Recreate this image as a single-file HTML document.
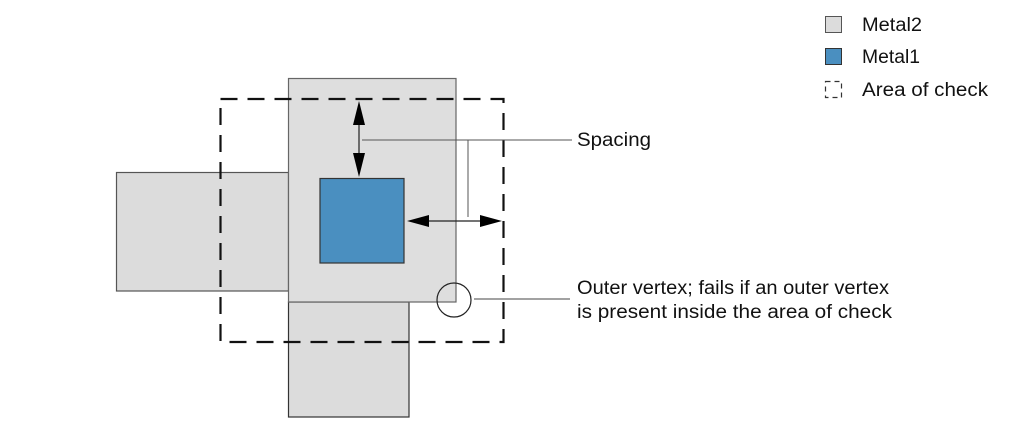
<!DOCTYPE html>
<html><head><meta charset="utf-8"><style>
html,body{margin:0;padding:0;background:#fff;}
svg{display:block;}
text{font-family:"Liberation Sans",Arial,sans-serif;font-size:19px;fill:#111;}
</style></head><body>
<svg width="1010" height="428" viewBox="0 0 1010 428" xmlns="http://www.w3.org/2000/svg">
<rect x="116.5" y="172.5" width="172" height="118.5" fill="#dcdcdc" stroke="#555" stroke-width="1.2"/>
<rect x="288.5" y="302" width="120.5" height="115" fill="#dcdcdc" stroke="#333" stroke-width="1.2"/>
<rect x="288.5" y="78.5" width="167.5" height="223.5" fill="#dedede" stroke="#666" stroke-width="1.2"/>
<rect x="320" y="178.5" width="84" height="84.5" fill="#4a8fc0" stroke="#333" stroke-width="1.2"/>
<rect x="220.5" y="99" width="283" height="243" fill="none" stroke="#111" stroke-width="2.2" stroke-dasharray="17,10"/>
<line x1="359" y1="115" x2="359" y2="165" stroke="#222" stroke-width="1.2"/>
<polygon points="359,101 353,125 365,125" fill="#000"/>
<polygon points="359,177 353,153 365,153" fill="#000"/>
<line x1="420" y1="221" x2="490" y2="221" stroke="#222" stroke-width="1.2"/>
<polygon points="407,221 429,215 429,227" fill="#000"/>
<polygon points="502,221 480,215 480,227" fill="#000"/>
<polyline points="362,140 572,140" fill="none" stroke="#555" stroke-width="1"/>
<line x1="468" y1="140" x2="468" y2="217" stroke="#555" stroke-width="1"/>
<circle cx="454" cy="300" r="17" fill="none" stroke="#222" stroke-width="1.2"/>
<line x1="474" y1="299" x2="570" y2="299" stroke="#444" stroke-width="1"/>
<text x="577" y="146" textLength="74" lengthAdjust="spacingAndGlyphs">Spacing</text>
<text x="577" y="294" textLength="312" lengthAdjust="spacingAndGlyphs">Outer vertex; fails if an outer vertex</text>
<text x="577" y="318" textLength="315" lengthAdjust="spacingAndGlyphs">is present inside the area of check</text>
<rect x="825.5" y="16.5" width="16" height="16" fill="#dcdcdc" stroke="#555" stroke-width="1"/>
<text x="862" y="31" textLength="60" lengthAdjust="spacingAndGlyphs">Metal2</text>
<rect x="825.5" y="48.5" width="16" height="16" fill="#4a8fc0" stroke="#333" stroke-width="1"/>
<text x="862" y="63" textLength="58" lengthAdjust="spacingAndGlyphs">Metal1</text>
<rect x="825.5" y="81.5" width="16" height="16" fill="none" stroke="#333" stroke-width="1.2" stroke-dasharray="5,4"/>
<text x="862" y="96" textLength="126" lengthAdjust="spacingAndGlyphs">Area of check</text>
</svg>
</body></html>
